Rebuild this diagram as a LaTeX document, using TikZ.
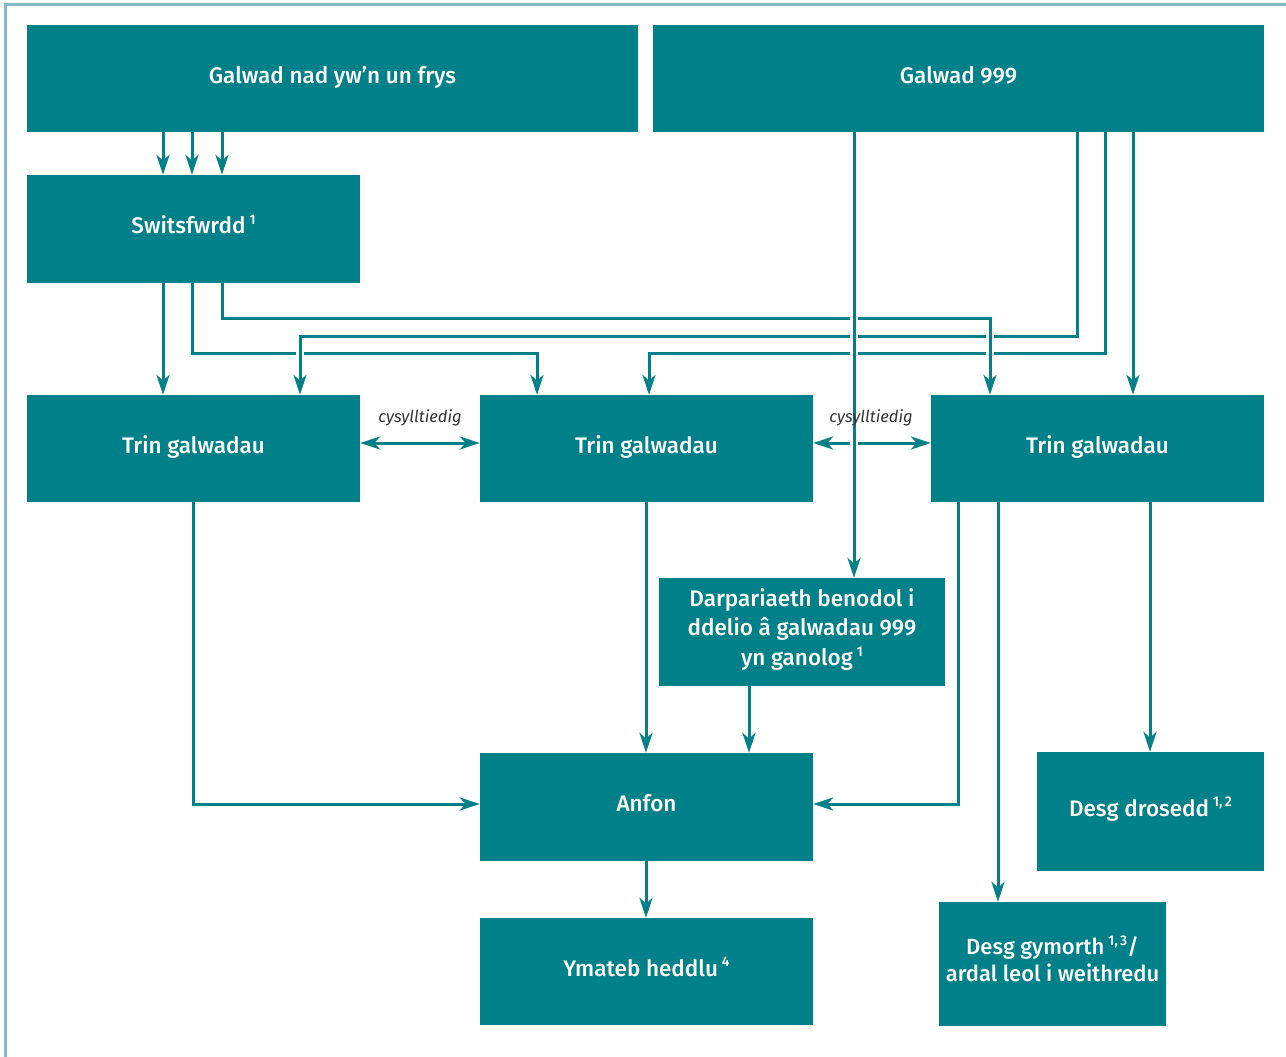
\documentclass[tikz,border=0pt]{standalone}
\usepackage{fontspec}
\setmainfont{Fira Sans}[BoldFont={Fira Sans Medium}]
\usetikzlibrary{arrows.meta,calc}
\definecolor{teal0}{RGB}{0,128,137}
\definecolor{framecol}{RGB}{134,187,198}
\definecolor{labelgray}{RGB}{51,51,51}
\newcommand\fnote[1]{\,\raisebox{0.42em}{\fontsize{14}{14}\selectfont #1}}
\begin{document}
\begin{tikzpicture}[x=1pt,y=-1pt,
  box/.style={fill=teal0, draw=none, inner sep=0pt, text=white,
    font=\fontsize{22.5}{29.5}\selectfont\bfseries, align=center, anchor=center},
  oneline/.style={text height=18pt, text depth=8.5pt},
  conn/.style={draw=teal0, line width=3pt, -{Stealth[length=20pt,width=13pt,inset=6pt]}},
  dbl/.style={draw=teal0, line width=3pt,
    {Stealth[length=20pt,width=13pt,inset=6pt]}-{Stealth[length=20pt,width=13pt,inset=6pt]}},
  cased/.style={preaction={draw=white, line width=8pt, -}},
  lbl/.style={font=\fontsize{16.5}{19}\selectfont\itshape, text=labelgray}
]
\useasboundingbox (0,0) rectangle (1286,1057);
% outer frame
\draw[framecol, line width=3pt] (5,1057) -- (5,5) -- (1286,5);

% boxes
\node[box, oneline, minimum width=611pt, minimum height=107pt] (nonurg) at (332.5,78.5) {Galwad nad yw’n un frys};
\node[box, oneline, minimum width=611pt, minimum height=107pt] (g999) at (958.5,78.5) {Galwad 999};
\node[box, oneline, minimum width=333pt, minimum height=108pt] (switch) at (193.5,229) {Switsfwrdd\fnote{1}};
\node[box, oneline, minimum width=333pt, minimum height=107pt] (trin1) at (193.5,448.5) {Trin galwadau};
\node[box, oneline, minimum width=333pt, minimum height=107pt] (trin2) at (646.5,448.5) {Trin galwadau};
\node[box, oneline, minimum width=333pt, minimum height=107pt] (trin3) at (1097.5,448.5) {Trin galwadau};
\node[box, text depth=10pt, minimum width=286pt, minimum height=108pt] (darp) at (802,632) {Darpariaeth benodol i\\ddelio â galwadau 999\\yn ganolog\fnote{1}};
\node[box, oneline, minimum width=333pt, minimum height=108pt] (anfon) at (646.5,807) {Anfon};
\node[box, oneline, minimum width=333pt, minimum height=107pt] (ymateb) at (646.5,971.5) {Ymateb heddlu\fnote{4}};
\node[box, oneline, minimum width=227pt, minimum height=119pt] (drosedd) at (1150.5,811.5) {Desg drosedd\fnote{1,\,2}};
\node[box, text depth=11pt, minimum width=227pt, minimum height=124pt, font=\fontsize{22}{27}\selectfont\bfseries] (gymorth) at (1052.5,964) {Desg gymorth\fnote{1,\,3}/\\ardal leol i weithredu};

% non-urgent call into the switchboard
\foreach \x in {163,192,222}
  \draw[conn] (nonurg.south -| \x,0) -- (switch.north -| \x,0);

% switchboard and 999 routes to call handling
\draw[conn] (switch.south -| 163,0) -- (trin1.north -| 163,0);
\draw[conn] (switch.south -| 192,0) |- (537,353) -- (trin2.north -| 537,0);
\draw[conn] (g999.south -| 1105,0) |- (649,353) -- (trin2.north -| 649,0);
\draw[conn,cased] (g999.south -| 1077,0) |- (300,336) -- (trin1.north -| 300,0);
\draw[conn,cased] (switch.south -| 222,0) |- (990,318) -- (trin3.north -| 990,0);
\draw[conn] (g999.south -| 1133,0) -- (trin3.north -| 1133,0);

% links between call handling units
\draw[dbl] (trin1.east |- 0,443) -- (trin2.west |- 0,443);
\draw[dbl] (trin2.east |- 0,443) -- (trin3.west |- 0,443);

% central 999 provision
\draw[conn,cased] (g999.south -| 854,0) -- (darp.north -| 854,0);

% link labels, set over the lines
\node[lbl] (l1) at (420,418) {cysylltiedig};
\node[lbl] (l2) at (871,418) {cysylltiedig};

% dispatch and desks
\draw[conn] (trin1.south -| 193,0) |- (anfon.west |- 0,804);
\draw[conn] (trin2.south -| 646,0) -- (anfon.north -| 646,0);
\draw[conn] (darp.south -| 749,0) -- (anfon.north -| 749,0);
\draw[conn] (trin3.south -| 958,0) |- (anfon.east |- 0,804);
\draw[conn] (trin3.south -| 998,0) -- (gymorth.north -| 998,0);
\draw[conn] (trin3.south -| 1150,0) -- (drosedd.north -| 1150,0);
\draw[conn] (anfon.south -| 646,0) -- (ymateb.north -| 646,0);
\end{tikzpicture}
\end{document}
